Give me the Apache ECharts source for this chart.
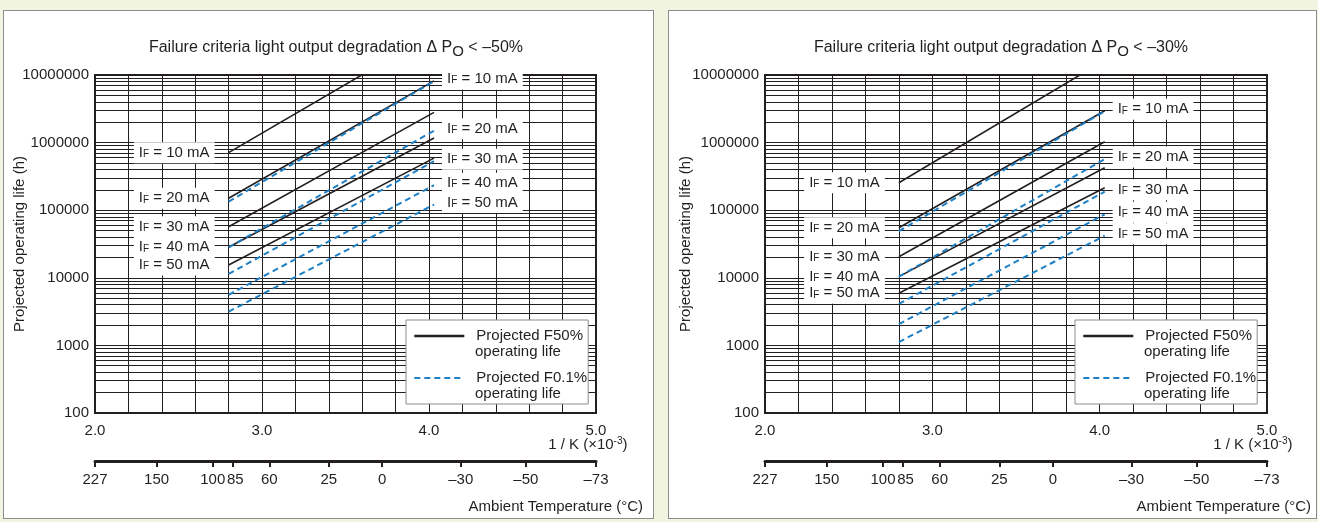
<!DOCTYPE html>
<html>
<head>
<meta charset="utf-8">
<script src="https://cdn.jsdelivr.net/npm/echarts@6/dist/echarts.min.js"></script>
<style>
  html, body { margin: 0; padding: 0; }
  body { width: 1318px; height: 522px; background: #f0f4e1; position: relative; overflow: hidden; }
  .panel { position: absolute; top: 10px; height: 507px; background: #fff; border: 1px solid #8c8c8c; }
  #panelA { left: 3px; width: 649px; }
  #panelB { left: 668px; width: 647px; }
  .chart { position: absolute; left: 0; top: 0; width: 100%; height: 100%; }
</style>
</head>
<body>
<div class="panel" id="panelA"><div class="chart" id="chartA"></div></div>
<div class="panel" id="panelB"><div class="chart" id="chartB"></div></div>
<script>
// forward currents, one line per current and per failure level
const currents = ['10 mA', '20 mA', '30 mA', '40 mA', '50 mA'];
// 1/K (x10^-3) where the lines start and end
const invTempRange = [2.8, 4.03];

// panel A: ΔPo < –50%
const f50StartA = [7.1e5, 1.5e5, 5.7e4, 2.83e4, 1.55e4];
const f50EndA = [4.2e7, 8.2e6, 2.8e6, 1.17e6, 5.9e5];
const f01StartA = [1.34e5, 2.83e4, 1.14e4, 5.6e3, 3.15e3];
const f01EndA = [8.1e6, 1.5e6, 5.3e5, 2.34e5, 1.21e5];

// panel B: ΔPo < –30%
const f50StartB = [2.55e5, 5.5e4, 2.05e4, 1.04e4, 5.9e3];
const f50EndB = [1.65e7, 2.96e6, 1.03e6, 4.25e5, 2.15e5];
const f01StartB = [4.9e4, 1.04e4, 4.1e3, 2.06e3, 1.12e3];
const f01EndB = [2.9e6, 5.7e5, 1.88e5, 8.7e4, 4.2e4];

// ambient temperature scale under the 1/K axis
const tempLabels = ['227', '150', '100', '85', '60', '25', '0', '–30', '–50', '–73'];
const tempPos = [2.0, 2.369, 2.705, 2.822, 3.044, 3.40, 3.72, 4.19, 4.58, 5.0];

const F50 = 'Projected F50%';
const F01 = 'Projected F0.1%';
const FONT = '"Liberation Sans", Arial, sans-serif';
const INK = '#231f20';
const BLUE = '#1d7fc4';

// log grid lines 2..9 inside each decade
const minorGrid = [];
for (let d = 100; d < 1e7; d *= 10) {
  for (let k = 2; k <= 9; k++) minorGrid.push(k * d);
}

const labelOpt = (pos, current) => ({
  show: true,
  position: pos,
  distance: pos === 'left' ? 14 : 8,
  offset: pos === 'right' ? [0, -2] : [0, 0],
  formatter: 'I{f|F} = ' + current,
  backgroundColor: '#fff',
  padding: [3, 5],
  color: INK,
  fontSize: 15,
  fontFamily: FONT,
  rich: {
    f: { fontSize: 10, fontFamily: FONT, color: INK, padding: [3, 0, 0, 0] }
  }
});

const lineSeries = (name, starts, ends, color, dashed, labelSide) =>
  currents.map((c, i) => ({
    name: name,
    type: 'line',
    symbol: 'circle',
    symbolSize: 0.01,
    showSymbol: true,
    silent: true,
    z: 3,
    lineStyle: { color: color, width: dashed ? 2 : 1.6, type: dashed ? [6, 4] : 'solid' },
    itemStyle: { color: color },
    data: [
      { value: [invTempRange[0], starts[i]], label: labelSide === 'left' ? labelOpt('left', c) : { show: false } },
      { value: [invTempRange[1], ends[i]], label: labelSide === 'right' ? labelOpt('right', c) : { show: false } }
    ]
  }));

const tempLabel = v => {
  let best = 0;
  tempPos.forEach((p, i) => { if (Math.abs(p - v) < Math.abs(tempPos[best] - v)) best = i; });
  const t = tempLabels[best];
  return t === '85' ? '{r|' + t + '}' : t;
};

const buildPanel = (el, cfg) => {
  const chart = echarts.init(el, null, { renderer: 'canvas' });
  const option = {
    animation: false,
    textStyle: { fontFamily: FONT, color: INK },
    grid: {
      left: cfg.gridLeft, top: 64, width: cfg.gridWidth, height: 338,
      outerBoundsMode: 'none', containLabel: false,
      show: true, borderColor: INK, borderWidth: 2, backgroundColor: 'transparent'
    },
    legend: {
      orient: 'vertical',
      left: cfg.legendLeft,
      top: 309,
      selectedMode: false,
      backgroundColor: '#fff',
      borderColor: '#8c8c8c',
      borderWidth: 1,
      padding: [8, 1, 18, 7],
      itemWidth: 50,
      itemHeight: 14,
      itemGap: 26,
      itemStyle: { color: 'rgba(0,0,0,0)', borderColor: 'rgba(0,0,0,0)', borderWidth: 0 },
      textStyle: { color: INK, fontSize: 15, fontFamily: FONT, lineHeight: 16, padding: [0, 0, 0, 7] },
      data: [
        { name: F50, lineStyle: { width: 2.6 } },
        { name: F01, lineStyle: { width: 2 } }
      ]
    },
    xAxis: [
      {
        type: 'value', min: 2, max: 5, interval: 0.2, position: 'bottom',
        axisLine: { show: false },
        axisTick: { show: false },
        splitLine: { show: true, lineStyle: { color: INK, width: 1 } },
        axisLabel: {
          margin: 10, color: INK, fontSize: 15, fontFamily: FONT,
          formatter: v => Math.abs(v - Math.round(v)) < 1e-6 ? v.toFixed(1) : ''
        }
      },
      {
        type: 'value', min: 2, max: 5, position: 'bottom', offset: 48,
        axisLine: { show: true, lineStyle: { color: INK, width: 3 } },
        axisTick: { show: true, customValues: tempPos, length: 6, lineStyle: { color: INK, width: 2 } },
        axisLabel: {
          customValues: tempPos, margin: 11, color: INK, fontSize: 15, fontFamily: FONT,
          formatter: tempLabel,
          rich: { r: { fontSize: 15, fontFamily: FONT, color: INK, padding: [0, 0, 0, 6] } }
        },
        splitLine: { show: false }
      }
    ],
    yAxis: {
      type: 'log', logBase: 10, min: 100, max: 1e7,
      axisLine: { show: false },
      axisTick: { show: false },
      splitLine: { show: true, lineStyle: { color: INK, width: 1 } },
      axisLabel: { margin: 6, color: INK, fontSize: 15, fontFamily: FONT, formatter: v => String(Math.round(v)) },
      name: 'Projected operating life (h)',
      nameLocation: 'middle',
      nameGap: cfg.nameGap,
      nameMoveOverlap: false,
      nameTextStyle: { color: INK, fontSize: 15, fontFamily: FONT }
    },
    graphic: [
      {
        type: 'text', x: 332, y: 37, silent: true,
        style: {
          text: 'Failure criteria light output degradation Δ P{o|O} < –' + cfg.pct + '%',
          align: 'center', verticalAlign: 'middle', fill: INK, fontSize: 16, fontFamily: FONT,
          rich: { o: { fontSize: 15, fontFamily: FONT, fill: INK, padding: [8, 0, 0, 0] } }
        }
      },
      {
        type: 'text', x: 623.5, y: 434, silent: true,
        style: {
          text: '1 / K (×10{sup|-3})',
          align: 'right', verticalAlign: 'middle', fill: INK, fontSize: 15, fontFamily: FONT,
          rich: { sup: { fontSize: 10, fontFamily: FONT, fill: INK, padding: [0, 0, 8, 0] } }
        }
      },
      {
        type: 'text', x: cfg.ambientRight, y: 496, silent: true,
        style: {
          text: 'Ambient Temperature (°C)',
          align: 'right', verticalAlign: 'middle', fill: INK, fontSize: 15, fontFamily: FONT
        }
      },
      // second line of each legend entry
      {
        type: 'text', x: cfg.legendLeft + 69, y: 341, silent: true, z: 100,
        style: { text: 'operating life', align: 'left', verticalAlign: 'middle', fill: INK, fontSize: 15, fontFamily: FONT }
      },
      {
        type: 'text', x: cfg.legendLeft + 69, y: 383, silent: true, z: 100,
        style: { text: 'operating life', align: 'left', verticalAlign: 'middle', fill: INK, fontSize: 15, fontFamily: FONT }
      }
    ],
    series: [
      {
        name: 'grid', type: 'line', data: [], silent: true, z: 1,
        markLine: {
          z: 1,
          silent: true, symbol: ['none', 'none'], animation: false,
          label: { show: false },
          lineStyle: { color: INK, width: 1, type: 'solid' },
          emphasis: { disabled: true },
          data: minorGrid.map(v => ({ yAxis: v }))
        }
      }
    ]
      .concat(lineSeries(F50, cfg.f50Start, cfg.f50End, INK, false, 'left'))
      .concat(lineSeries(F01, cfg.f01Start, cfg.f01End, BLUE, true, 'right'))
  };
  chart.setOption(option);
  return chart;
};

buildPanel(document.getElementById('chartA'), {
  pct: 50, gridLeft: 91, gridWidth: 501, legendLeft: 402, ambientRight: 639, nameGap: 68,
  f50Start: f50StartA, f50End: f50EndA, f01Start: f01StartA, f01End: f01EndA
});
buildPanel(document.getElementById('chartB'), {
  pct: 30, gridLeft: 96, gridWidth: 502, legendLeft: 406, ambientRight: 642, nameGap: 72,
  f50Start: f50StartB, f50End: f50EndB, f01Start: f01StartB, f01End: f01EndB
});
</script>
</body>
</html>
